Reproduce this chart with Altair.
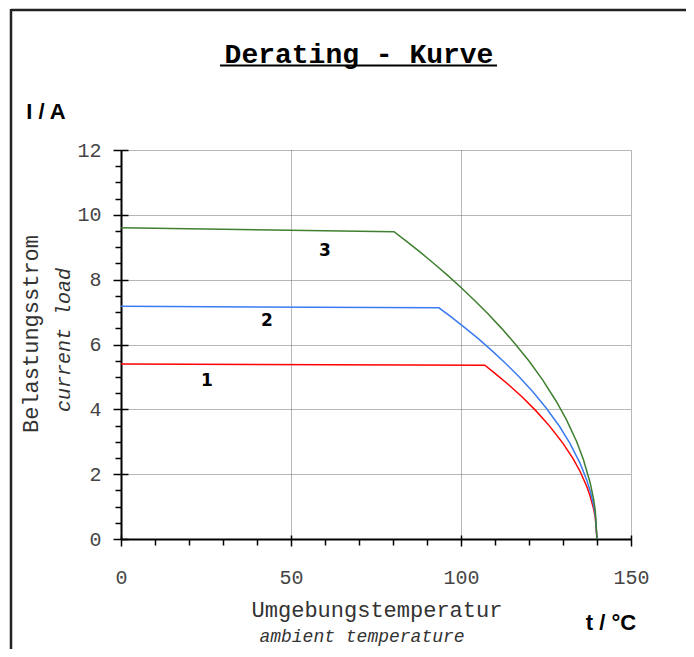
import altair as alt
import pandas as pd

# ---- data ----
red_t = [0, 107, 110, 114, 118, 122, 126, 130, 133, 135, 137, 138, 139, 139.5, 140]
red_i = [5.40, 5.36, 5.11, 4.76, 4.38, 3.96, 3.49, 2.95, 2.47, 2.09, 1.62, 1.32, 0.93, 0.66, 0.0]

blue_t = [0, 93.5, 97, 101, 105, 109, 113, 117, 121, 125, 129, 132, 135, 137, 138, 139, 139.5, 140]
blue_i = [7.18, 7.13, 6.86, 6.53, 6.19, 5.82, 5.43, 5.01, 4.56, 4.05, 3.47, 2.96, 2.34, 1.81, 1.48, 1.05, 0.74, 0.0]

green_t = [0, 80.3, 84, 88, 92, 96, 100, 104, 108, 112, 116, 120, 124, 128, 131, 134, 136, 138, 139, 139.5, 140]
green_i = [9.60, 9.48, 9.18, 8.85, 8.50, 8.14, 7.76, 7.36, 6.94, 6.49, 6.01, 5.49, 4.91, 4.25, 3.68, 3.01, 2.45, 1.73, 1.23, 0.87, 0.0]

series_names = ["1", "2", "3"]
series_colors = ["#ff0000", "#3a7cf0", "#3f7f2f"]

label_text = ["1", "2", "3"]
label_t = [25.3, 42.9, 60.0]
label_i = [4.88, 6.73, 8.89]

x_major = [0, 50, 100, 150]
x_minor = [10, 20, 30, 40, 60, 70, 80, 90, 110, 120, 130, 140]
y_major = [0, 2, 4, 6, 8, 10, 12]
y_minor = [0.5, 1, 1.5, 2.5, 3, 3.5, 4.5, 5, 5.5, 6.5, 7, 7.5, 8.5, 9, 9.5, 10.5, 11, 11.5]

title_text = "Derating - Kurve"
y_title_de = "Belastungsstrom"
y_title_en = "current load"
x_title_de = "Umgebungstemperatur"
x_title_en = "ambient temperature"
y_unit = "I / A"
x_unit = "t / °C"

# ---- tables ----
rows = []
for name, ts, vs in zip(series_names, [red_t, blue_t, green_t], [red_i, blue_i, green_i]):
    for k, (t, v) in enumerate(zip(ts, vs)):
        rows.append({"t": t, "i": v, "series": name, "k": k})
df = pd.DataFrame(rows)
labels_df = pd.DataFrame({"t": label_t, "i": label_i, "txt": label_text})
one = pd.DataFrame({"a": [0]})

W, H = 510, 389
MONO = "Courier New, Courier, Nimbus Mono PS, FreeMono, Liberation Mono, monospace"
SANS = "Liberation Sans"


def xs():
    return alt.Scale(domain=[0, 150], nice=False, zero=False)


def ys():
    return alt.Scale(domain=[0, 12], nice=False, zero=False)


common_tick = dict(tickColor="black", tickWidth=1.5, title=None, grid=False)
grid_style = dict(grid=True, gridDash=[1, 1], gridColor="#6f6f6f", gridWidth=1)

lines = alt.Chart(df).mark_line(strokeWidth=1.5, clip=False).encode(
    x=alt.X("t:Q", scale=xs(), axis=alt.Axis(
        orient="bottom", values=x_major, tickSize=7, tickColor="black", tickWidth=1.5,
        domainColor="black", domainWidth=2, labelFont=MONO, labelFontSize=20, labelColor="#444",
        labelPadding=21, labelFlush=False, title=None, **grid_style)),
    y=alt.Y("i:Q", scale=ys(), axis=alt.Axis(
        orient="left", values=y_major, tickSize=8, tickColor="black", tickWidth=1.5,
        domainColor="black", domainWidth=2, labelFont=MONO, labelFontSize=20, labelColor="#444",
        labelPadding=12, labelFlush=False, title=None, **grid_style)),
    color=alt.Color("series:N", scale=alt.Scale(domain=series_names, range=series_colors), legend=None),
    order="k:Q",
)

inner_ticks = alt.Chart(df).mark_point(opacity=0).encode(
    x=alt.X("t:Q", scale=xs(), axis=alt.Axis(orient="bottom", values=x_major, offset=-4, tickSize=4,
                                              domain=False, labels=False, **common_tick)),
    y=alt.Y("i:Q", scale=ys(), axis=alt.Axis(orient="left", values=y_major, offset=-7, tickSize=7,
                                              domain=False, labels=False, **common_tick)),
)

minor_ticks = alt.Chart(df).mark_point(opacity=0).encode(
    x=alt.X("t:Q", scale=xs(), axis=alt.Axis(orient="bottom", values=x_minor, tickSize=6,
                                              domain=False, labels=False, **common_tick)),
    y=alt.Y("i:Q", scale=ys(), axis=alt.Axis(orient="left", values=y_minor, tickSize=6,
                                              domain=False, labels=False, **common_tick)),
)

num_labels = alt.Chart(labels_df).mark_text(font="DejaVu Sans", fontWeight="bold", fontSize=17,
                                            color="black").encode(
    x=alt.X("t:Q", scale=xs(), axis=None),
    y=alt.Y("i:Q", scale=ys(), axis=None),
    text="txt:N",
)


def label(txt, x, y, font=MONO, size=20, weight="normal", style="normal", angle=0, color="#333",
          baseline="middle"):
    return alt.Chart(one).mark_text(text=txt, font=font, fontSize=size, fontWeight=weight,
                                    fontStyle=style, angle=angle, color=color, align="center",
                                    baseline=baseline).encode(x=alt.value(x), y=alt.value(y))


title = label(title_text, 238, -87, size=28, weight="bold", color="black", baseline="alphabetic")
underline = alt.Chart(one).mark_rule(color="black", strokeWidth=2).encode(
    x=alt.value(99), x2=alt.value(376), y=alt.value(-84.5))

frame_top = alt.Chart(one).mark_rule(color="#222", strokeWidth=2.5).encode(
    x=alt.value(-110), x2=alt.value(570), y=alt.value(-140))
frame_left = alt.Chart(one).mark_rule(color="#222", strokeWidth=2.5).encode(
    x=alt.value(-110), y=alt.value(-141), y2=alt.value(500))

t_y_de = label(y_title_de, -90, 184, size=22, angle=270)
t_y_en = label(y_title_en, -57.5, 190, size=20, style="italic", angle=270)
t_x_de = label(x_title_de, 256, 460, size=22)
t_x_en = label(x_title_en, 241, 487, size=18, style="italic")
u_y = label(y_unit, -75, -38, font=SANS, size=22, weight="bold", color="black")
u_x = label(x_unit, 490, 473, font=SANS, size=22, weight="bold", color="black")

chart = alt.layer(
    lines, inner_ticks, minor_ticks, num_labels,
    title, underline, frame_top, frame_left,
    t_y_de, t_y_en, t_x_de, t_x_en, u_y, u_x,
).resolve_scale(x="independent", y="independent").properties(
    width=W, height=H,
    autosize=alt.AutoSizeParams(type="none"),
    padding={"left": 113, "top": 142, "right": 55, "bottom": 110},
    background="white",
).configure_view(stroke=None)

chart.save("out.html", embed_options={"renderer": "svg", "actions": False})
